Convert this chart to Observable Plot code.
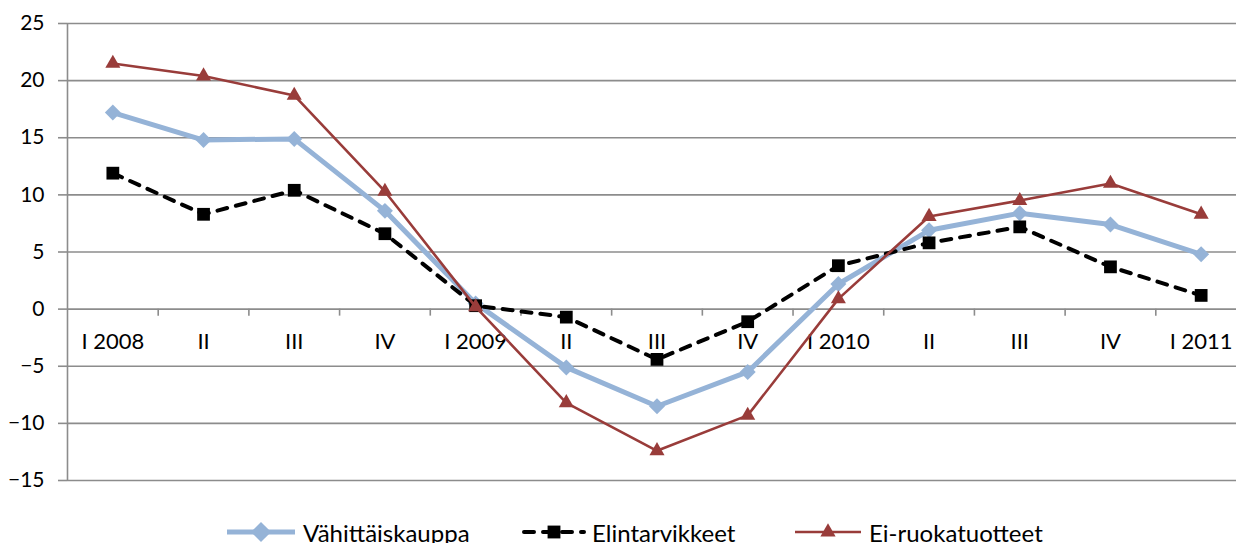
<!DOCTYPE html>
<html>
<head>
<meta charset="utf-8">
<script src="https://cdn.jsdelivr.net/npm/d3@7"></script>
<script src="https://cdn.jsdelivr.net/npm/@observablehq/plot@0.6"></script>
<style>
  html, body { margin: 0; padding: 0; background: #fff; }
  body { width: 1236px; height: 543px; position: relative; overflow: hidden; font-family: Lato, "Open Sans", sans-serif; }
  #chart svg { display: block; }
  #legend { position: absolute; left: 0; top: 517px; width: 1236px; height: 30px; }
  .item { position: absolute; top: 0; height: 30px; display: flex; align-items: center; font-size: 24px; color: #000; white-space: nowrap; }
  .item svg { display: block; margin-right: 6px; }
</style>
</head>
<body>
<div id="chart"></div>
<div id="legend"></div>
<script>
// ---- data ----
const quarters = ["I 2008", "II", "III", "IV", "I 2009", "II", "III", "IV", "I 2010", "II", "III", "IV", "I 2011"];
const vahittaiskauppa = [17.2, 14.8, 14.9, 8.6, 0.5, -5.1, -8.5, -5.5, 2.2, 6.9, 8.4, 7.4, 4.8];
const elintarvikkeet = [11.9, 8.3, 10.4, 6.6, 0.3, -0.7, -4.4, -1.1, 3.8, 5.8, 7.2, 3.7, 1.2];
const eiRuokatuotteet = [21.5, 20.4, 18.7, 10.3, 0.2, -8.2, -12.4, -9.3, 0.9, 8.1, 9.5, 11.0, 8.3];
const seriesNames = ["Vähittäiskauppa", "Elintarvikkeet", "Ei-ruokatuotteet"];
const yTicks = [-15, -10, -5, 0, 5, 10, 15, 20, 25];

// ---- build tables ----
const rows = (values) => values.map((v, i) => ({i, value: v}));
const blue = rows(vahittaiskauppa);
const black = rows(elintarvikkeet);
const red = rows(eiRuokatuotteet);
const cats = quarters.map((q, i) => ({i, label: q}));
const boundaries = quarters.map((q, i) => i + 0.5).slice(0, quarters.length - 1);

const grid = "#8c8c8c";
const cBlue = "#95B3D7", cBlack = "#000000", cRed = "#993C3A";

const chart = Plot.plot({
  width: 1236,
  height: 505,
  marginLeft: 67,
  marginRight: 0,
  marginTop: 23,
  marginBottom: 25,
  style: {fontFamily: "Lato, 'Open Sans', sans-serif", background: "#fff", overflow: "visible"},
  x: {domain: [-0.5, quarters.length - 0.5], range: [67, 1246], axis: null},
  y: {domain: [-15, 25], label: null},
  marks: [
    Plot.ruleY(yTicks, {stroke: grid, strokeWidth: 1.6}),
    Plot.ruleX([-0.5], {stroke: grid, strokeWidth: 1.6}),
    Plot.ruleX(boundaries, {x: d => d, y1: () => 0, y2: () => 0, insetBottom: -7, stroke: grid, strokeWidth: 1.6}),
    Plot.axisY({ticks: yTicks, label: null, tickSize: 9, tickPadding: 14, stroke: grid, strokeWidth: 1.6, strokeOpacity: 1, fontSize: 21, fill: "#000"}),
    Plot.text(cats, {x: "i", y: () => 0, text: "label", dy: 33, fontSize: 22, fill: "#000"}),
    // Vähittäiskauppa
    Plot.line(blue, {x: "i", y: "value", stroke: cBlue, strokeWidth: 5, strokeLinejoin: "round"}),
    Plot.dot(blue, {x: "i", y: "value", symbol: "diamond2", r: 7.2, fill: cBlue, stroke: "none"}),
    // Elintarvikkeet
    Plot.line(black, {x: "i", y: "value", stroke: cBlack, strokeWidth: 4, strokeDasharray: "10,9", strokeLinecap: "round"}),
    Plot.dot(black, {x: "i", y: "value", symbol: "square", r: 7.2, fill: cBlack, stroke: "none"}),
    // Ei-ruokatuotteet
    Plot.line(red, {x: "i", y: "value", stroke: cRed, strokeWidth: 2.6}),
    Plot.dot(red, {x: "i", y: "value", symbol: "triangle", r: 5.6, fill: cRed, stroke: "none"})
  ]
});
document.getElementById("chart").appendChild(chart);

// ---- legend (HTML below the SVG) ----
const legendSpecs = [
  {name: seriesNames[0], left: 225, w: 72, color: cBlue, sw: 5, dash: null, symbol: d3.symbolDiamond2, size: 260},
  {name: seriesNames[1], left: 522, w: 64, color: cBlack, sw: 4, dash: "10,9", symbol: d3.symbolSquare, size: 165},
  {name: seriesNames[2], left: 793, w: 70, color: cRed, sw: 2.6, dash: null, symbol: d3.symbolTriangle, size: 100}
];
const legend = d3.select("#legend");
for (const s of legendSpecs) {
  const item = legend.append("div").attr("class", "item").style("left", s.left + "px");
  const svg = item.append("svg").attr("width", s.w).attr("height", 30);
  svg.append("line").attr("x1", 2).attr("x2", s.w - 2).attr("y1", 15).attr("y2", 15)
    .attr("stroke", s.color).attr("stroke-width", s.sw)
    .attr("stroke-linecap", s.dash ? "round" : "butt")
    .attr("stroke-dasharray", s.dash);
  svg.append("path").attr("transform", `translate(${s.w / 2},15)`)
    .attr("d", d3.symbol(s.symbol, s.size)()).attr("fill", s.color);
  item.append("span").text(s.name);
}
</script>
</body>
</html>
